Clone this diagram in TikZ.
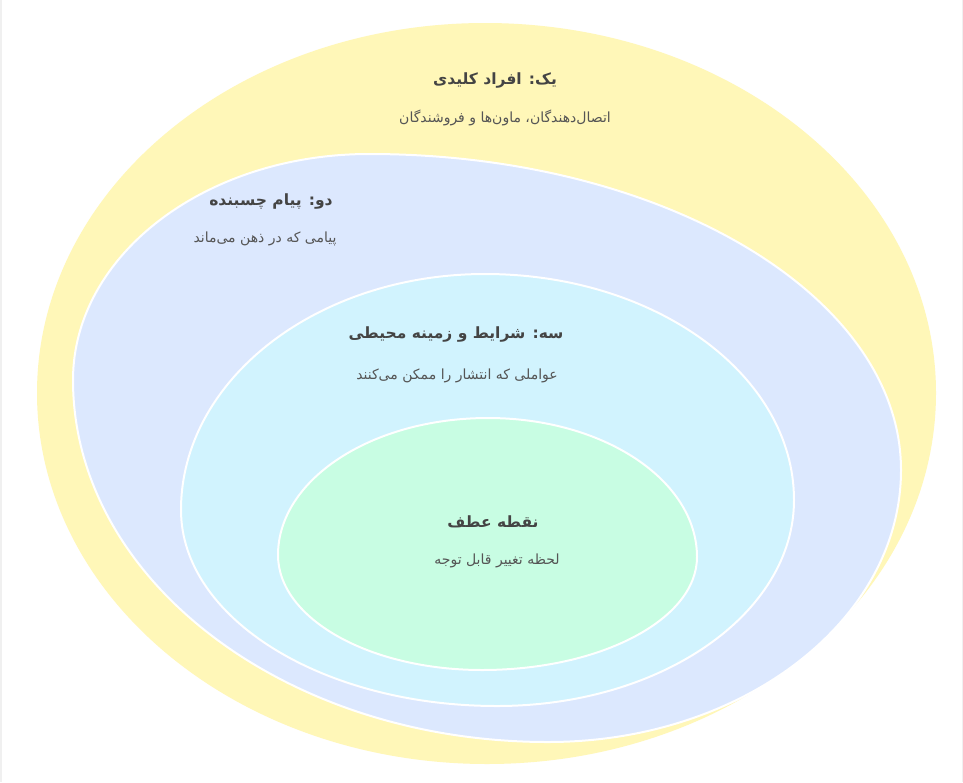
\documentclass[tikz,border=0pt]{standalone}
\usepackage{fontspec}
\newfontfamily\arabicfont[Script=Arabic]{DejaVu Sans}
\TeXXeTstate=1
\definecolor{ringone}{HTML}{FFF7B8}
\definecolor{ringtwo}{HTML}{DCE8FE}
\definecolor{ringthree}{HTML}{D1F3FE}
\definecolor{ringfour}{HTML}{C8FDE3}
\definecolor{titletext}{HTML}{444444}
\definecolor{subtext}{HTML}{555555}
% egg shape through left, top, right and bottom points
\newcommand\eggpath[8]{%
  (#1,#2) .. controls (#1,{#2-0.5523*(#2-#4)}) and ({#3-0.5523*(#3-#1)},#4) .. (#3,#4)
  .. controls ({#3+0.5523*(#5-#3)},#4) and (#5,{#6-0.5523*(#6-#4)}) .. (#5,#6)
  .. controls (#5,{#6+0.5523*(#8-#6)}) and ({#7+0.5523*(#5-#7)},#8) .. (#7,#8)
  .. controls ({#7-0.5523*(#7-#1)},#8) and (#1,{#2+0.5523*(#8-#2)}) .. (#1,#2) -- cycle}
\tikzset{
  ring/.style={draw=white, line width=2pt},
  ringtitle/.style={font=\arabicfont\bfseries\fontsize{15.5}{19}\selectfont, text=titletext, inner sep=0pt},
  ringnote/.style={font=\arabicfont\fontsize{14}{17}\selectfont, text=subtext, inner sep=0pt}
}
\begin{document}
\begin{tikzpicture}[x=1pt, y=-1pt]
  \useasboundingbox (0,0) rectangle (963,782);
  \fill[white] (0,0) rectangle (963,782);
  \draw[gray!12, line width=1.5pt] (0.75,0) -- (0.75,782) (962.25,0) -- (962.25,782);
  % rings, outside to inside
  \fill[ringone] \eggpath{37}{393}{485}{23}{936}{393}{487}{764};
  \filldraw[ring, fill=ringtwo] \eggpath{73}{380}{369}{154}{901}{470}{548}{742};
  \filldraw[ring, fill=ringthree] \eggpath{181}{510}{485}{274}{794}{500}{497}{706};
  \filldraw[ring, fill=ringfour] \eggpath{278}{555}{488}{418}{697}{557}{482}{670};
  % labels
  \node[ringtitle] (onetitle) at (495,81) {\beginR یک: افراد کلیدی\endR};
  \node[ringtitle] (twotitle) at (271,201) {\beginR دو: پیام چسبنده\endR};
  \node[ringtitle] (threetitle) at (456,334) {\beginR سه: شرایط و زمینه محیطی\endR};
  \node[ringtitle] (fourtitle) at (493,522) {\beginR نقطه عطف\endR};
  \node[ringnote] (onenote) at (505,118) {\beginR اتصال‌دهندگان، ماون‌ها و فروشندگان\endR};
  \node[ringnote] (twonote) at (265,239) {\beginR پیامی که در ذهن می‌ماند\endR};
  \node[ringnote] (threenote) at (457,376) {\beginR عواملی که انتشار را ممکن می‌کنند\endR};
  \node[ringnote] (fournote) at (497,561) {\beginR لحظه تغییر قابل توجه\endR};
\end{tikzpicture}
\end{document}
